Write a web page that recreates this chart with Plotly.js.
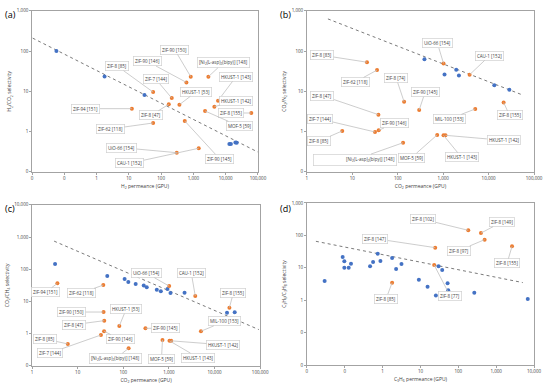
<!DOCTYPE html>
<html>
<head>
<meta charset="utf-8">
<script src="https://cdn.plot.ly/plotly-3.0.1.min.js"></script>
<style>html,body{margin:0;padding:0;background:#fff;}#chart{width:550px;height:388px;}</style>
</head>
<body>
<div id="chart"></div>
<script>
// ---------- Panel (a): H2/CO2 ----------
const aBlueX = [0.057, 1.77, 30.5, 13000, 14500, 20000, 22000];
const aBlueY = [100, 23.5, 8.1, 0.49, 0.49, 0.54, 0.53];
const aLabels = ['ZIF-90 [150]','ZIF-90 [146]','ZIF-8 [85]','[Ni<sub>2</sub>(L-asp)<sub>2</sub>(bipy)] [148]','ZIF-7 [144]','HKUST-1 [143]','HKUST-1 [53]','HKUST-1 [142]','ZIF-94 [151]','ZIF-8 [47]','ZIF-8 [155]','MOF-5 [59]','ZIF-62 [118]','UiO-66 [154]','ZIF-90 [145]','CAU-1 [152]'];
const aOrangeX = [828, 608, 56.6, 2911, 214, 5800, 369, 4460, 12.4, 173, 62200, 2300, 56.6, 305, 540, 1462];
const aOrangeY = [23.1, 16.7, 9.6, 23.1, 6.8, 5.87, 4.67, 4.17, 3.72, 4.76, 2.9, 3.25, 1.64, 0.30, 1.84, 0.386];
const aBoundX = [0.0105, 100000];
const aBoundY = [210, 0.31];
const aTicksX = [0.01, 0.1, 1, 10, 100, 1000, 10000, 100000];
const aTickTextX = ['0','0','1','10','100','1,000','10,000','100,000'];
const aTicksY = [0.1, 1, 10, 100, 1000];
const aTickTextY = ['0','1','10','100','1,000'];

// ---------- Panel (b): CO2/N2 ----------
const bBlueX = [387, 1070, 1936, 2218, 13340, 28600];
const bBlueY = [63, 26.4, 34.4, 24.9, 14.1, 11];
const bLabels = ['UiO-66 [154]','CAU-1 [152]','ZIF-8 [83]','ZIF-62 [118]','ZIF-8 [74]','ZIF-90 [145]','ZIF-8 [155]','MIL-100 [153]','ZIF-8 [47]','ZIF-7 [144]','ZIF-90 [146]','ZIF-8 [85]','[Ni<sub>2</sub>(L-asp)<sub>2</sub>(bipy)] [148]','MOF-5 [59]','HKUST-1 [142]','HKUST-1 [143]'];
const bOrangeX = [1017, 3810, 21, 35, 138, 296, 21400, 5080, 37.5, 31.6, 38, 6.0, 131, 738, 1125, 1017];
const bOrangeY = [49.4, 25.9, 53, 33.8, 5.5, 3.44, 5.3, 3.65, 2.64, 0.98, 1.08, 1.04, 0.53, 0.83, 0.81, 0.81];
const bBoundX = [2.9, 58000];
const bBoundY = [631, 8.0];
const bTicksX = [1, 10, 100, 1000, 10000, 100000];
const bTickTextX = ['1','10','100','1,000','10,000','100,000'];
const bTicksY = [0.1, 1, 10, 100, 1000];
const bTickTextY = ['0','1','10','100','1,000'];

// ---------- Panel (c): CO2/CH4 ----------
const cBlueX = [3.2, 44.6, 107, 129, 187, 281, 327, 543, 665, 932, 1085, 2203, 18800, 27700];
const cBlueY = [145, 61.5, 49.7, 40, 34.8, 31.6, 27.4, 23.2, 20.6, 24.3, 18.3, 18.7, 4.5, 4.6];
const cLabels = ['ZIF-94 [151]','ZIF-62 [118]','UiO-66 [154]','CAU-1 [152]','ZIF-8 [155]','ZIF-90 [150]','HKUST-1 [53]','ZIF-8 [47]','ZIF-90 [145]','MIL-100 [153]','ZIF-90 [146]','ZIF-8 [85]','ZIF-7 [144]','[Ni<sub>2</sub>(L-asp)<sub>2</sub>(bipy)] [148]','MOF-5 [59]','HKUST-1 [142]','HKUST-1 [143]'];
const cOrangeX = [3.6, 36.5, 1014, 3785, 21200, 37, 81.9, 38.3, 306, 5040, 38, 6.1, 32.4, 131, 723, 1122, 1030];
const cOrangeY = [36.5, 32.4, 30.1, 14.8, 6.4, 4.7, 1.74, 2.54, 1.47, 1.19, 1.19, 0.48, 0.91, 0.35, 0.64, 0.6, 0.6];
const cBoundX = [3.05, 93500];
const cBoundY = [748, 1.34];
const cTicksX = [1, 10, 100, 1000, 10000, 100000];
const cTickTextX = ['1','10','100','1,000','10,000','100,000'];
const cTicksY = [0.1, 1, 10, 100, 1000, 10000];
const cTickTextY = ['0','1','10','100','1,000','10,000'];

// ---------- Panel (d): C3H6/C3H8 ----------
const dBlueX = [0.0294, 0.088, 0.0975, 0.0975, 0.127, 0.146, 0.466, 0.56, 0.743, 0.875, 1.78, 2.27, 3.15, 9.06, 15.4, 25.5, 30, 37.5, 52, 54, 264, 6830];
const dBlueY = [3.9, 21.5, 15.9, 10.1, 10.1, 13.4, 11.1, 15.1, 27.3, 16.2, 20.1, 9.2, 13.1, 4.3, 2.6, 1.41, 11.1, 8.55, 3.32, 2.02, 1.71, 1.09];
const dLabels = ['ZIF-8 [102]','ZIF-8 [149]','ZIF-8 [97]','ZIF-8 [155]','ZIF-8 [147]','ZIF-8 [77]','ZIF-8 [85]'];
const dOrangeX = [183, 396, 495, 2620, 24.5, 23, 1.78];
const dOrangeY = [143, 118, 73.8, 46, 41.8, 12.2, 3.47];
const dBoundX = [0.0173, 5040];
const dBoundY = [65.6, 3.5];
const dTicksX = [0.01, 0.1, 1, 10, 100, 1000, 10000];
const dTickTextX = ['0','0','1','10','100','1,000','10,000'];
const dTicksY = [0.01, 0.1, 1, 10, 100, 1000];
const dTickTextY = ['0','0','1','10','100','1,000'];

// label offsets (px) from point to label centre — layout only
const aOff = [[-16,-27],[-39,-21],[-36,-26],[15,-14],[-16,-19],[18,-24],[17,-13],[22,-6],[-46,0],[-18,11],[-20,0],[34,15],[-43,6],[-55,-5],[35,38],[-69,15]];
const bOff = [[-6,-20],[20,-19],[-45,-7],[-22,12],[-8,-24],[6,-18],[6,13],[-26,10],[-56,-19],[-55,-13],[16,-7],[-23,10],[-48,17],[-26,23],[58,5],[18,22]];
const cOff = [[-12,9],[-22,8],[-23,-13],[-4,-23],[4,-15],[-32,0],[7,-17],[-30,4],[20,0],[24,-10],[16,8],[-23,-5],[-51,18],[-13,10],[-1,19],[52,4],[29,17]];
const dOff = [[-45,-11],[21,-11],[-26,11],[-5,17],[-60,-9],[16,31],[-6,16]];

const BLUE = '#4472C4', ORANGE = '#ED7D31';
const FONT = 'Open Sans, Noto Sans, Arial, sans-serif';

const traces = [];
const annotations = [];
function addPanel(ax, bx, by, ox, oy, labels, offs, lx, ly) {
  const xa = 'x' + ax, ya = 'y' + ax;
  traces.push({x: lx, y: ly, xaxis: xa, yaxis: ya, mode: 'lines', type: 'scatter',
    line: {color: '#7a7a7a', width: 1, dash: 'dot'}, hoverinfo: 'skip'});
  traces.push({x: bx, y: by, xaxis: xa, yaxis: ya, mode: 'markers', type: 'scatter',
    marker: {color: BLUE, size: 4}});
  traces.push({x: ox, y: oy, xaxis: xa, yaxis: ya, mode: 'markers', type: 'scatter',
    marker: {color: ORANGE, size: 4}});
  labels.forEach((t, i) => {
    const a = {text: t, x: Math.log10(ox[i]), y: Math.log10(oy[i]), xref: xa, yref: ya,
      ax: offs[i][0], ay: offs[i][1], showarrow: true, arrowhead: 0, arrowwidth: 0.8,
      arrowcolor: '#c0c0c0', standoff: 0, bgcolor: '#ffffff', bordercolor: '#d0d0d0',
      borderwidth: 0.7, borderpad: 1.2, font: {family: FONT, size: 4.5, color: '#404040'}};
    if (t.indexOf('Ni') >= 0 && ax === '2') { a.width = 80; a.align = 'right'; a.height = 8; }
    annotations.push(a);
  });
}
addPanel('', aBlueX, aBlueY, aOrangeX, aOrangeY, aLabels, aOff, aBoundX, aBoundY);
addPanel('2', bBlueX, bBlueY, bOrangeX, bOrangeY, bLabels, bOff, bBoundX, bBoundY);
addPanel('3', cBlueX, cBlueY, cOrangeX, cOrangeY, cLabels, cOff, cBoundX, cBoundY);
addPanel('4', dBlueX, dBlueY, dOrangeX, dOrangeY, dLabels, dOff, dBoundX, dBoundY);

const tickFont = {family: FONT, size: 4.5, color: '#404040'};
const titleFont = {family: FONT, size: 5, color: '#404040'};
function axis(domain, range, tv, tt, title, anchor) {
  return {type: 'log', domain: domain, range: range, tickmode: 'array', tickvals: tv, ticktext: tt,
    showgrid: false, zeroline: false, showline: true, mirror: true, linecolor: '#8c8c8c', linewidth: 0.8,
    ticks: 'outside', ticklen: 2, tickwidth: 0.8, tickcolor: '#8c8c8c', tickfont: tickFont,
    title: {text: title, font: titleFont, standoff: 4}, anchor: anchor};
}
const panelFont = {family: FONT, size: 9, color: '#000'};
const layout = {
  width: 550, height: 388, margin: {l: 0, r: 0, t: 0, b: 0},
  paper_bgcolor: '#ffffff', plot_bgcolor: '#ffffff', showlegend: false,
  xaxis: axis([0.0582, 0.469], [-2, 5], aTicksX, aTickTextX, 'H<sub>2</sub> permeance (GPU)', 'y'),
  yaxis: axis([0.557, 0.972], [-1, 3], aTicksY, aTickTextY, 'H<sub>2</sub>/CO<sub>2</sub> selectivity', 'x'),
  xaxis2: axis([0.558, 0.971], [0, 5], bTicksX, bTickTextX, 'CO<sub>2</sub> permeance (GPU)', 'y2'),
  yaxis2: axis([0.557, 0.972], [-1, 3], bTicksY, bTickTextY, 'CO<sub>2</sub>/N<sub>2</sub> selectivity', 'x2'),
  xaxis3: axis([0.0582, 0.473], [0, 5], cTicksX, cTickTextX, 'CO<sub>2</sub> permeance (GPU)', 'y3'),
  yaxis3: axis([0.057, 0.472], [-1, 4], cTicksY, cTickTextY, 'CO<sub>2</sub>/CH<sub>4</sub> selectivity', 'x3'),
  xaxis4: axis([0.558, 0.971], [-2, 4], dTicksX, dTickTextX, 'C<sub>3</sub>H<sub>6</sub> permeance (GPU)', 'y4'),
  yaxis4: axis([0.059, 0.477], [-2, 3], dTicksY, dTickTextY, 'C<sub>3</sub>H<sub>6</sub>/C<sub>3</sub>H<sub>8</sub> selectivity', 'x4'),
  annotations: annotations.concat([
    {text: '(a)', xref: 'paper', yref: 'paper', x: 0.006, y: 0.962, xanchor: 'left', yanchor: 'middle', showarrow: false, font: panelFont},
    {text: '(b)', xref: 'paper', yref: 'paper', x: 0.506, y: 0.962, xanchor: 'left', yanchor: 'middle', showarrow: false, font: panelFont},
    {text: '(c)', xref: 'paper', yref: 'paper', x: 0.006, y: 0.462, xanchor: 'left', yanchor: 'middle', showarrow: false, font: panelFont},
    {text: '(d)', xref: 'paper', yref: 'paper', x: 0.506, y: 0.462, xanchor: 'left', yanchor: 'middle', showarrow: false, font: panelFont}
  ])
};
Plotly.newPlot('chart', traces, layout, {displayModeBar: false, staticPlot: true});
</script>
</body>
</html>
